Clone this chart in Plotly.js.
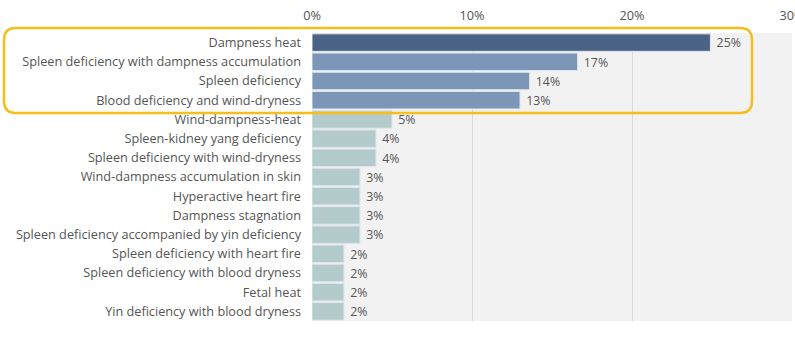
<!DOCTYPE html>
<html>
<head>
<meta charset="utf-8">
<script src="https://cdn.plot.ly/plotly-3.0.1.min.js"></script>
<style>html,body{margin:0;padding:0;background:#fff;}#chart{width:795px;height:359px;}</style>
</head>
<body>
<div id="chart"></div>
<script>
const categories = [
  "Dampness heat",
  "Spleen deficiency with dampness accumulation",
  "Spleen deficiency",
  "Blood deficiency and wind-dryness",
  "Wind-dampness-heat",
  "Spleen-kidney yang deficiency",
  "Spleen deficiency with wind-dryness",
  "Wind-dampness accumulation in skin",
  "Hyperactive heart fire",
  "Dampness stagnation",
  "Spleen deficiency accompanied by yin deficiency",
  "Spleen deficiency with heart fire",
  "Spleen deficiency with blood dryness",
  "Fetal heat",
  "Yin deficiency with blood dryness"
];
const values = [24.9, 16.6, 13.6, 13.0, 5.0, 4.0, 4.0, 3.0, 3.0, 3.0, 3.0, 2.0, 2.0, 2.0, 2.0];
const groups = ["top1", "top", "top", "top", "rest", "rest", "rest", "rest", "rest", "rest", "rest", "rest", "rest", "rest", "rest"];
const tickValues = [0, 10, 20, 30];
const tickLabels = ["0%", "10%", "20%", "30%"];

const groupColors = {top1: "#4a6286", top: "#7b96b7", rest: "#b3cccb"};
const FONT = "Open Sans, sans-serif";
const FS = 12.7;

const trace = {
  type: "bar",
  orientation: "h",
  x: values,
  y: categories,
  marker: {
    color: groups.map(g => groupColors[g]),
    line: {color: "#dfe6ec", width: 1}
  },
  texttemplate: " %{x:.0f}%",
  textposition: "outside",
  cliponaxis: false,
  textfont: {family: FONT, size: FS, color: "#555555"},
  hoverinfo: "none"
};

// rounded highlight box (paper coordinates)
const W = 480, H = 288;
function px2x(p){ return (p - 312) / W; }
function py2y(p){ return (321 - p) / H; }
const L = px2x(4), R = px2x(752), T = py2y(28), B = py2y(113);
const rx = 12 / W, ry = 12 / H;
const path = `M ${L+rx},${T} L ${R-rx},${T} Q ${R},${T} ${R},${T-ry} L ${R},${B+ry} Q ${R},${B} ${R-rx},${B} L ${L+rx},${B} Q ${L},${B} ${L},${B+ry} L ${L},${T-ry} Q ${L},${T} ${L+rx},${T} Z`;

const layout = {
  width: 795,
  height: 359,
  margin: {l: 312, r: 3, t: 33, b: 38},
  paper_bgcolor: "#ffffff",
  plot_bgcolor: "#f2f2f2",
  font: {family: FONT, size: FS, color: "#555555"},
  bargap: 0.09,
  showlegend: false,
  xaxis: {
    side: "top",
    range: [0, 30],
    tickmode: "array",
    tickvals: tickValues,
    ticktext: tickLabels,
    ticklabeloverflow: "allow",
    ticklabelstandoff: 9,
    showgrid: true,
    gridcolor: "#dadada",
    gridwidth: 1,
    zeroline: false,
    showline: false,
    ticks: "",
    tickfont: {family: FONT, size: FS, color: "#555555"},
    fixedrange: true
  },
  yaxis: {
    autorange: "reversed",
    type: "category",
    showgrid: false,
    zeroline: false,
    showline: false,
    ticks: "",
    ticklabelstandoff: 10,
    tickfont: {family: FONT, size: FS, color: "#555555"},
    fixedrange: true
  },
  shapes: [{
    type: "path",
    xref: "paper",
    yref: "paper",
    path: path,
    line: {color: "#f5be1b", width: 2.5},
    fillcolor: "rgba(0,0,0,0)",
    layer: "above"
  }]
};

Plotly.newPlot("chart", [trace], layout, {displayModeBar: false, staticPlot: true});
</script>
</body>
</html>
